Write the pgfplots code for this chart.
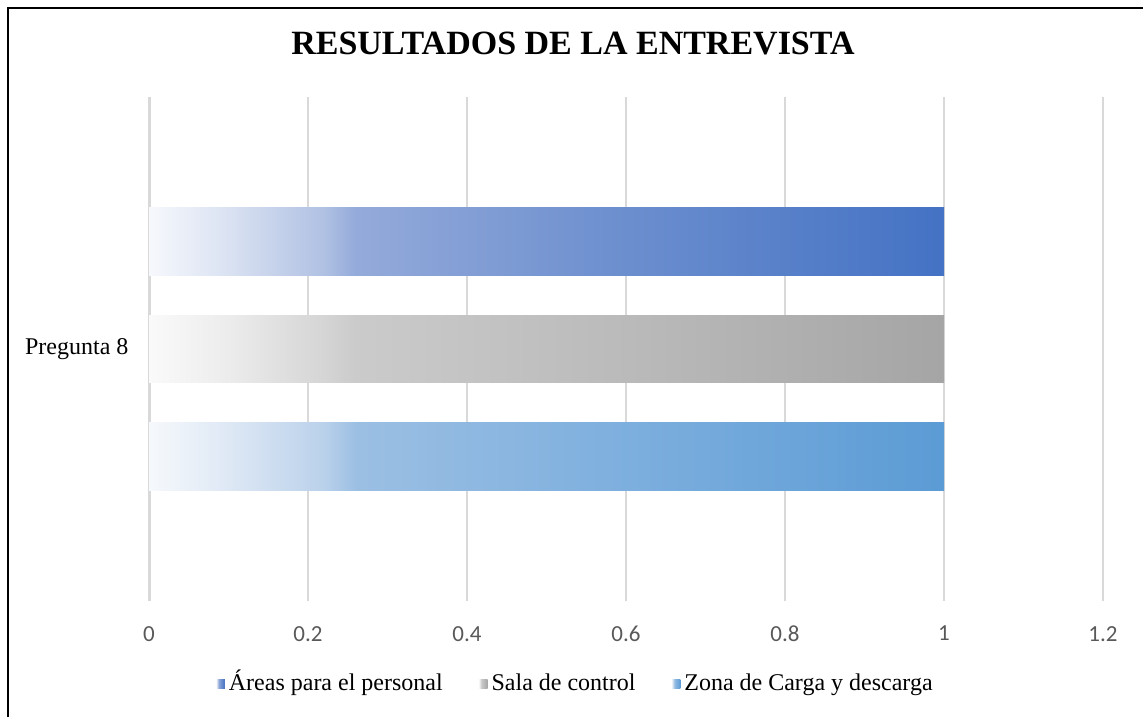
\documentclass[border=0pt]{standalone}
\usepackage{fontspec}
\setmainfont{Liberation Serif}
\newfontfamily\carlito{Carlito}
\usepackage{pgfplots}
\pgfplotsset{compat=1.18}
\definecolor{gridc}{RGB}{217,217,217}
\definecolor{tickc}{RGB}{89,89,89}
% value v in [0,1] maps to 25+50v bp
\pgfdeclarehorizontalshading{shA}{100bp}{rgb(0bp)=(0.965,0.973,0.988); rgb(25bp)=(0.965,0.973,0.988); rgb(30bp)=(0.855,0.886,0.949); rgb(36bp)=(0.690,0.757,0.890); rgb(38bp)=(0.580,0.667,0.855); rgb(55bp)=(0.420,0.557,0.808); rgb(75bp)=(0.267,0.447,0.769); rgb(100bp)=(0.267,0.447,0.769)}
\pgfdeclarehorizontalshading{shB}{100bp}{rgb(0bp)=(0.980,0.980,0.980); rgb(25bp)=(0.980,0.980,0.980); rgb(30bp)=(0.925,0.925,0.925); rgb(36bp)=(0.835,0.835,0.835); rgb(38bp)=(0.795,0.795,0.795); rgb(55bp)=(0.730,0.730,0.730); rgb(75bp)=(0.647,0.647,0.647); rgb(100bp)=(0.647,0.647,0.647)}
\pgfdeclarehorizontalshading{shC}{100bp}{rgb(0bp)=(0.965,0.976,0.988); rgb(25bp)=(0.965,0.976,0.988); rgb(30bp)=(0.870,0.910,0.960); rgb(36bp)=(0.730,0.820,0.920); rgb(38bp)=(0.610,0.750,0.890); rgb(55bp)=(0.490,0.685,0.870); rgb(75bp)=(0.357,0.608,0.835); rgb(100bp)=(0.357,0.608,0.835)}
\begin{document}
\begin{tikzpicture}
\useasboundingbox (0,0) rectangle (571.5pt,-358.5pt);
\draw[black,line width=1pt] (4pt,-358.5pt) -- (4pt,-4pt) -- (571.5pt,-4pt);
\node[anchor=base,font=\fontsize{17}{20}\selectfont\bfseries] at (286.5pt,-27.5pt) {RESULTADOS DE LA ENTREVISTA};
\begin{axis}[
  at={(74.5pt,-300.5pt)}, anchor=south west,
  scale only axis, width=477pt, height=252pt,
  xmin=0, xmax=1.2, ymin=-1, ymax=1,
  axis y line*=left, axis x line*=bottom,
  x axis line style={draw=none},
  y axis line style={draw=gridc, line width=1.5pt},
  xtick={0,0.2,0.4,0.6,0.8,1,1.2},
  xticklabels={0,0.2,0.4,0.6,0.8,1,1.2},
  xtick style={draw=none},
  xmajorgrids, grid style={draw=gridc, line width=0.75pt},
  xticklabel style={font=\carlito\fontsize{11.5}{13}\selectfont, text=tickc, yshift=-9pt},
  ytick={0}, yticklabels={Pregunta 8},
  ytick style={draw=none},
  yticklabel style={font=\fontsize{12}{14}\selectfont, xshift=-2.5pt},
  xbar, bar width=0.266,
  legend columns=3,
  legend style={draw=none, fill=none, at={(0.448,-0.165)}, anchor=center,
    font=\fontsize{12}{14}\selectfont,
    nodes={text height=1.8ex, text depth=0.5ex},
    /tikz/every even column/.append style={column sep=16pt}},
  legend cell align=left,
]
\addplot[draw=none, shading=shA, bar shift=0.4266,
  legend image code/.code={\shade[shading=shA] (0pt,-2.3pt) rectangle (4.4pt,2.3pt);}]
  coordinates {(1,0)};
\addlegendentry{Áreas para el personal}
\addplot[draw=none, shading=shB, bar shift=0,
  legend image code/.code={\shade[shading=shB] (0pt,-2.3pt) rectangle (4.4pt,2.3pt);}]
  coordinates {(1,0)};
\addlegendentry{Sala de control}
\addplot[draw=none, shading=shC, bar shift=-0.4266,
  legend image code/.code={\shade[shading=shC] (0pt,-2.3pt) rectangle (4.4pt,2.3pt);}]
  coordinates {(1,0)};
\addlegendentry{Zona de Carga y descarga}
\draw[gridc, line width=1.5pt] ([xshift=-3pt]axis cs:0,1) -- (axis cs:0,1);
\draw[gridc, line width=1.5pt] ([xshift=-3pt]axis cs:0,-1) -- (axis cs:0,-1);
\end{axis}
\end{tikzpicture}
\end{document}
